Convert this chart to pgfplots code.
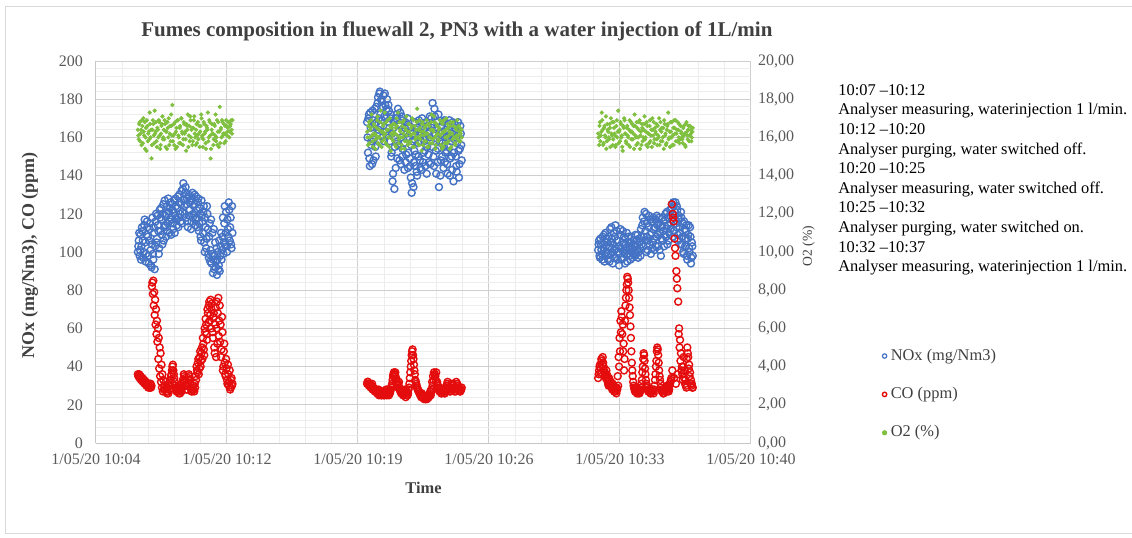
\documentclass[border=0pt]{standalone}
\usepackage{fontspec}
\setmainfont{Liberation Serif}
\usepackage{pgfplots}
\usepackage{pgfplotstable}
\pgfplotsset{compat=1.18}

\definecolor{noxblue}{RGB}{68,114,196}
\definecolor{cored}{RGB}{228,12,12}
\definecolor{o2green}{RGB}{128,192,64}
\definecolor{txt}{RGB}{89,89,89}

% time in minutes after 10:00, first set of samples
\pgfplotstableread{
t nox co o2
7.10 100 36 16.4
7.15 106 35 15.9
7.20 98 34 16.8
7.25 109 35 16.2
7.30 103 33 15.6
7.35 111 34 16.6
7.40 97 32 17.0
7.45 114 33 16.1
7.50 105 31 15.4
7.55 99 32 16.5
7.60 116 30 16.9
7.65 108 31 15.8
7.70 94 30 16.3
7.75 112 29 17.3
7.80 101 31 16.0
7.85 92 30 14.9
7.90 118 84 16.4
7.95 96 85 16.7
8.00 110 79 15.7
8.05 103 75 16.2
8.10 120 70 16.8
8.15 107 64 15.5
8.20 114 60 16.4
8.25 99 55 16.9
8.30 122 50 16.1
8.35 111 47 15.6
8.40 117 41 16.6
8.45 104 36 17.1
8.50 125 33 16.0
8.55 113 30 15.9
8.60 119 28 16.7
8.65 108 27 16.3
8.70 124 26 15.4
8.75 115 29 16.5
8.80 121 31 17.0
8.85 110 28 16.2
8.90 126 33 15.8
8.95 117 36 16.6
9.00 122 40 17.7
9.05 112 38 16.1
9.10 127 34 15.6
9.15 119 30 16.8
9.20 124 28 16.3
9.25 114 27 15.5
9.30 129 29 16.9
9.35 118 26 16.0
9.40 126 28 16.5
9.45 116 30 15.7
9.50 132 27 17.0
9.55 121 29 16.2
9.60 136 32 15.9
9.65 124 35 16.7
9.70 131 34 16.3
9.75 118 30 15.3
9.80 128 28 16.6
9.85 113 31 17.2
9.90 130 36 16.1
9.95 122 33 15.8
10.00 127 29 16.9
10.05 116 27 16.4
10.10 131 28 15.6
10.15 120 30 16.5
10.20 125 27 17.1
10.25 114 29 16.0
10.30 129 33 16.4
10.35 118 38 15.7
10.40 126 42 16.8
10.45 111 36 16.2
10.50 123 45 15.5
10.55 108 40 16.6
10.60 127 47 17.0
10.65 116 44 16.1
10.70 121 52 15.9
10.75 105 46 16.7
10.80 118 58 16.3
10.85 102 62 15.4
10.90 124 54 16.5
10.95 112 68 17.3
11.00 97 72 16.0
11.05 115 64 16.8
11.10 101 75 14.9
11.15 94 70 16.4
11.20 110 58 16.2
11.25 96 66 15.6
11.30 91 50 16.7
11.35 105 62 16.1
11.40 95 45 15.8
11.45 88 74 16.9
11.50 100 68 16.3
11.55 93 56 15.5
11.60 90 72 17.6
11.65 103 62 16.4
11.70 96 49 16.0
11.75 108 58 16.8
11.80 99 40 16.2
11.85 115 52 15.7
11.90 104 36 16.6
11.95 121 44 16.9
12.00 100 33 16.1
12.05 112 41 16.5
12.10 126 30 16.8
12.15 106 38 16.3
12.20 118 29 16.7
12.25 102 34 16.4
12.30 110 31 16.9
19.70 168 31 16.3
19.75 152 32 15.6
19.80 172 30 16.8
19.85 145 31 16.0
19.90 165 29 16.5
19.95 158 30 17.2
20.00 174 28 15.8
20.05 148 29 16.2
20.10 167 28 16.6
20.15 155 27 15.4
20.20 176 28 16.1
20.25 162 26 16.9
20.30 181 27 15.7
20.35 170 25 16.4
20.40 184 26 16.0
20.45 166 27 17.4
20.50 179 25 15.5
20.55 160 26 16.3
20.60 182 27 16.7
20.65 171 25 15.9
20.70 177 26 16.2
20.75 163 28 16.8
20.80 180 26 15.6
20.85 168 27 16.4
20.90 174 25 16.0
20.95 158 26 17.0
21.00 172 28 15.3
21.05 152 30 16.5
21.10 137 33 16.1
21.15 165 36 15.8
21.20 133 35 16.7
21.25 160 37 16.2
21.30 170 34 15.5
21.35 149 31 16.6
21.40 175 29 17.3
21.45 156 32 15.9
21.50 166 28 16.4
21.55 146 27 16.0
21.60 171 26 15.6
21.65 154 27 16.8
21.70 163 25 16.2
21.75 143 26 15.4
21.80 168 28 16.5
21.85 151 25 17.1
21.90 160 27 15.8
21.95 144 26 16.3
22.00 166 29 16.7
22.05 149 34 15.7
22.10 139 40 16.1
22.15 131 46 16.6
22.20 158 49 15.5
22.25 134 44 16.9
22.30 153 38 16.2
22.35 145 33 15.9
22.40 164 31 16.4
22.45 140 29 17.5
22.50 157 28 16.0
22.55 169 27 15.6
22.60 148 26 16.5
22.65 161 25 16.1
22.70 143 26 15.3
22.75 166 24 16.8
22.80 152 25 16.3
22.85 159 24 15.8
22.90 145 23 16.6
22.95 168 24 16.2
23.00 155 23 15.5
23.05 162 25 16.7
23.10 147 24 16.0
23.15 171 26 15.7
23.20 158 25 16.4
23.25 165 27 17.2
23.30 178 30 15.9
23.35 150 33 16.3
23.40 175 36 16.8
23.45 162 35 15.4
23.50 141 37 16.1
23.55 168 32 16.6
23.60 154 30 15.8
23.65 134 28 16.4
23.70 163 29 16.9
23.75 148 27 15.6
23.80 166 26 16.2
23.85 157 27 16.7
23.90 144 28 15.5
23.95 169 26 16.3
24.00 152 27 16.0
24.05 160 29 17.0
24.10 146 31 15.7
24.15 167 30 16.5
24.20 155 28 16.1
24.25 140 27 15.4
24.30 162 29 16.8
24.35 150 31 16.2
24.40 168 30 15.9
24.45 137 28 16.6
24.50 159 27 16.0
24.55 165 29 15.6
24.60 145 32 16.4
24.65 157 31 16.9
24.70 168 29 16.1
24.75 139 28 15.8
24.80 154 27 16.5
24.85 162 28 16.2
24.90 148 29 16.0
32.40 101 34 16.2
32.45 106 38 15.6
32.50 97 41 16.8
32.55 104 36 16.1
32.60 99 43 17.3
32.65 108 45 16.4
32.70 102 40 15.7
32.75 95 37 16.6
32.80 110 35 16.0
32.85 100 38 15.4
32.90 105 33 16.7
32.95 96 31 16.3
33.00 103 34 15.9
33.05 112 30 16.5
33.10 99 32 17.0
33.15 107 29 16.1
33.20 94 31 15.6
33.25 110 28 16.8
33.30 101 27 16.2
33.35 114 29 15.5
33.40 97 26 16.6
33.45 106 28 16.0
33.50 100 30 17.4
33.55 93 40 16.3
33.60 109 48 15.8
33.65 102 58 16.7
33.70 96 66 16.1
33.75 111 62 15.3
33.80 104 52 16.5
33.85 99 44 16.9
33.90 107 72 16.2
33.95 101 80 15.7
34.00 95 87 16.6
34.05 108 84 16.0
34.10 103 76 16.4
34.15 98 67 15.5
34.20 105 55 16.8
34.25 100 42 16.3
34.30 97 35 15.9
34.35 106 30 16.6
34.40 101 28 17.2
34.45 109 27 16.1
34.50 99 29 15.6
34.55 104 27 16.5
34.60 97 26 16.0
34.65 107 28 16.8
34.70 102 27 15.4
34.75 112 29 16.3
34.80 104 33 16.7
34.85 118 40 15.8
34.90 108 47 16.4
34.95 121 43 17.1
35.00 111 36 16.0
35.05 100 31 15.6
35.10 115 29 16.6
35.15 106 27 16.2
35.20 119 28 15.7
35.25 109 27 16.9
35.30 99 26 16.1
35.35 116 28 15.5
35.40 105 27 16.4
35.45 112 26 16.8
35.50 101 30 15.9
35.55 117 36 16.3
35.60 108 43 16.7
35.65 114 50 15.6
35.70 103 46 16.1
35.75 118 38 17.0
35.80 110 33 16.4
35.85 98 29 15.8
35.90 113 27 16.5
35.95 106 28 16.0
36.00 116 26 15.4
36.05 109 27 16.7
36.10 120 29 16.2
36.15 112 28 15.7
36.20 104 27 16.6
36.25 118 30 17.3
36.30 110 28 16.0
36.35 122 31 15.5
36.40 115 33 16.3
36.45 125 125 16.8
36.50 108 120 16.1
36.55 124 116 15.6
36.60 119 107 16.5
36.65 126 98 16.9
36.70 113 90 16.2
36.75 122 81 15.8
36.80 106 74 16.4
36.85 117 60 16.7
36.90 110 54 15.9
36.95 121 47 16.3
37.00 104 40 16.0
37.05 115 33 15.7
37.10 99 45 16.6
37.15 112 38 16.2
37.20 107 33 15.5
37.25 114 29 16.8
37.30 96 50 16.1
37.35 109 45 16.4
37.40 102 41 15.8
37.45 113 37 16.6
37.50 94 33 16.2
37.55 105 31 16.0
37.60 98 29 16.5
}\fumes

% second set, sampled in between
\pgfplotstableread{
t nox co o2
7.125 103 35 16.1
7.175 110 36 16.7
7.225 101 34 15.8
7.275 96 33 16.4
7.325 113 34 16.9
7.375 106 32 15.7
7.425 100 33 16.3
7.475 117 31 16.8
7.525 95 32 16.0
7.575 109 30 15.3
7.625 113 31 16.6
7.675 98 29 16.2
7.725 106 30 15.9
7.775 115 31 16.7
7.825 93 29 16.4
7.875 104 82 15.6
7.925 99 78 16.9
7.975 113 72 16.1
8.025 91 67 17.4
8.075 116 62 16.3
8.125 105 57 15.8
8.175 119 53 16.5
8.225 111 44 16.0
8.275 102 39 16.8
8.325 118 35 15.4
8.375 123 32 16.2
8.425 109 29 16.7
8.475 120 27 15.9
8.525 106 28 16.4
8.575 127 30 16.9
8.625 114 32 15.5
8.675 120 29 16.3
8.725 111 27 16.8
8.775 128 26 16.0
8.825 116 28 15.6
8.875 123 30 16.6
8.925 109 35 17.2
8.975 125 38 16.1
9.025 115 41 15.8
9.075 121 36 16.7
9.125 110 32 16.2
9.175 128 29 15.4
9.225 117 27 16.5
9.275 123 28 16.9
9.325 113 30 16.1
9.375 130 27 15.7
9.425 120 26 16.6
9.475 125 28 17.0
9.525 115 31 16.3
9.575 133 33 15.6
9.625 127 36 16.8
9.675 120 33 16.2
9.725 134 30 15.9
9.775 125 28 16.7
9.825 116 30 16.4
9.875 129 34 15.5
9.925 119 35 16.6
9.975 126 31 17.1
10.025 112 28 16.0
10.075 128 27 16.5
10.125 118 29 15.8
10.175 124 28 16.9
10.225 130 31 16.2
10.275 117 35 15.6
10.325 122 40 16.7
10.375 113 37 16.1
10.425 128 44 15.9
10.475 115 39 16.6
10.525 120 48 16.3
10.575 106 43 17.2
10.625 119 50 16.0
10.675 110 55 15.5
10.725 124 49 16.8
10.775 100 60 16.2
10.825 113 65 15.7
10.875 107 57 16.6
10.925 120 70 16.4
10.975 99 63 15.8
11.025 108 74 16.9
11.075 95 67 16.1
11.125 117 60 15.4
11.175 99 73 16.7
11.225 89 55 16.2
11.275 112 68 15.9
11.325 98 47 16.6
11.375 92 71 17.2
11.425 102 60 16.0
11.475 96 52 15.6
11.525 91 76 16.8
11.575 106 64 16.3
11.625 98 53 15.7
11.675 110 45 16.5
11.725 101 66 16.9
11.775 118 38 16.1
11.825 105 48 16.7
11.875 124 42 16.2
11.925 110 35 15.8
11.975 103 39 16.6
12.025 117 31 16.3
12.075 108 36 16.8
12.125 122 32 16.0
12.175 113 28 16.6
12.225 104 33 16.9
12.275 124 30 16.2
19.725 160 32 16.0
19.775 170 31 16.6
19.825 149 30 15.7
19.875 173 30 16.4
19.925 156 29 16.9
19.975 146 31 16.1
20.025 169 29 15.5
20.075 159 28 16.7
20.125 175 27 16.2
20.175 150 28 15.9
20.225 168 27 16.5
20.275 178 26 17.1
20.325 164 28 16.0
20.375 183 26 15.6
20.425 172 27 16.8
20.475 180 25 16.3
20.525 169 26 15.8
20.575 176 27 16.6
20.625 158 25 16.1
20.675 183 26 17.3
20.725 170 27 15.7
20.775 175 25 16.4
20.825 161 26 16.9
20.875 177 28 16.0
20.925 165 26 15.5
20.975 170 27 16.6
21.025 150 29 16.2
21.075 162 31 15.9
21.125 141 35 16.7
21.175 168 37 16.3
21.225 155 36 15.6
21.275 144 33 16.5
21.325 172 32 17.0
21.375 158 30 16.1
21.425 167 31 15.7
21.475 148 29 16.8
21.525 173 27 16.3
21.575 160 26 15.4
21.625 150 28 16.6
21.675 169 25 16.0
21.725 157 27 16.9
21.775 165 26 15.8
21.825 147 24 16.4
21.875 162 26 16.1
21.925 170 25 15.6
21.975 152 28 16.7
22.025 160 31 16.3
22.075 145 37 15.8
22.125 156 43 16.5
22.175 136 48 17.0
22.225 162 46 16.2
22.275 147 41 15.5
22.325 168 36 16.6
22.375 151 32 16.0
22.425 142 30 16.8
22.475 165 28 15.7
22.525 150 27 16.4
22.575 163 26 16.9
22.625 144 25 15.9
22.675 158 24 16.3
22.725 170 25 16.7
22.775 147 24 15.6
22.825 164 23 16.1
22.875 153 24 16.5
22.925 160 23 15.8
22.975 141 24 16.9
23.025 166 25 16.2
23.075 151 24 15.5
23.125 160 25 16.6
23.175 146 27 16.0
23.225 170 28 16.8
23.275 155 32 15.7
23.325 167 35 16.4
23.375 145 37 17.1
23.425 171 36 16.0
23.475 153 33 15.6
23.525 164 31 16.7
23.575 147 29 16.2
23.625 172 28 15.9
23.675 158 27 16.5
23.725 140 28 16.1
23.775 162 26 16.8
23.825 150 27 15.4
23.875 168 28 16.3
23.925 155 27 16.9
23.975 147 26 15.7
24.025 164 28 16.4
24.075 153 30 16.0
24.125 141 32 16.7
24.175 160 29 15.8
24.225 169 28 16.3
24.275 149 27 16.6
24.325 158 28 15.5
24.375 143 30 16.2
24.425 163 31 16.8
24.475 152 29 16.0
24.525 167 28 15.7
24.575 150 27 16.5
24.625 142 29 16.1
24.675 161 30 15.9
24.725 153 28 16.6
24.775 146 29 16.3
24.825 166 27 15.8
24.875 156 28 16.4
32.425 104 36 16.0
32.475 98 40 16.6
32.525 107 39 15.8
32.575 101 44 16.3
32.625 96 41 16.9
32.675 104 42 15.6
32.725 109 38 16.5
32.775 98 36 16.1
32.825 103 34 17.1
32.875 107 36 15.8
32.925 99 32 16.4
32.975 108 30 16.0
33.025 95 33 16.7
33.075 105 31 15.5
33.125 113 30 16.2
33.175 100 28 16.8
33.225 104 30 15.9
33.275 97 27 16.5
33.325 108 28 16.1
33.375 102 27 15.6
33.425 111 29 16.9
33.475 96 35 16.3
33.525 103 45 15.7
33.575 99 55 16.4
33.625 112 64 16.8
33.675 97 69 16.0
33.725 105 57 15.5
33.775 100 48 16.6
33.825 108 38 17.0
33.875 94 64 16.2
33.925 104 76 15.8
33.975 110 83 16.5
34.025 99 86 16.1
34.075 105 80 15.6
34.125 101 71 16.9
34.175 96 61 16.3
34.225 108 48 15.9
34.275 102 38 16.7
34.325 99 32 16.2
34.375 104 29 15.4
34.425 98 27 16.6
34.475 106 28 16.0
34.525 101 26 16.8
34.575 109 28 15.7
34.625 100 27 16.4
34.675 105 26 16.9
34.725 98 28 16.1
34.775 108 31 15.6
34.825 114 37 16.5
34.875 103 44 16.0
34.925 116 46 16.7
34.975 106 39 15.9
35.025 120 33 16.3
35.075 108 30 16.8
35.125 101 28 15.5
35.175 113 27 16.2
35.225 104 28 16.6
35.275 117 26 15.8
35.325 110 27 16.4
35.375 102 28 17.0
35.425 118 27 16.1
35.475 107 28 15.7
35.525 113 33 16.5
35.575 103 40 16.2
35.625 119 48 15.9
35.675 109 49 16.6
35.725 115 42 16.0
35.775 101 35 15.6
35.825 114 31 16.8
35.875 107 28 16.3
35.925 118 27 15.8
35.975 111 26 16.5
36.025 103 28 16.9
36.075 117 27 16.1
36.125 108 28 15.6
36.175 121 30 16.4
36.225 114 29 16.7
36.275 106 27 15.9
36.325 119 30 16.3
36.375 112 32 16.8
36.425 123 34 16.0
36.475 117 38 15.6
36.525 126 118 16.5
36.575 111 34 16.9
36.625 121 102 16.2
36.675 115 31 15.8
36.725 124 86 16.4
36.775 109 36 16.8
36.825 119 57 16.0
36.875 113 50 15.7
36.925 104 43 16.6
36.975 118 38 16.2
37.025 108 36 15.9
37.075 100 40 16.5
37.125 116 34 16.1
37.175 103 31 15.6
37.225 111 30 16.7
37.275 98 44 16.3
37.325 107 47 15.9
37.375 114 39 16.6
37.425 100 35 16.1
37.475 108 31 16.4
37.525 97 30 15.8
37.575 103 29 16.3
}\fumesb

\pgfplotsset{
  common/.style={
    scale only axis, width=327.5pt, height=191pt,
    xmin=4.8, xmax=40.8,
    /pgf/number format/assume math mode=true,
    tick label style={font=\fontsize{8}{9}\selectfont, text=txt},
    major tick length=0pt, minor tick length=0pt,
  },
  nox/.style={only marks, mark=o, mark size=1.75pt, draw=noxblue, line width=0.7pt},
  co/.style={only marks, mark=o, mark size=1.75pt, draw=cored, line width=0.7pt},
  otwo/.style={only marks, mark=*, mark size=0.85pt, color=o2green},
}

\begin{document}
\begin{tikzpicture}
\path[use as bounding box] (-48pt,-47pt) rectangle (518pt,221.5pt);
\draw[gray!30, line width=0.5pt] (-45pt,-45pt) rectangle (530pt,218pt);

\begin{axis}[
  common,
  name=main,
  ymin=0, ymax=200,
  xtick={4.8,12,19.2,26.4,33.6,40.8},
  xticklabels={1/05/20 10:04,1/05/20 10:12,1/05/20 10:19,1/05/20 10:26,1/05/20 10:33,1/05/20 10:40},
  minor x tick num=4,
  ytick={0,20,...,200},
  minor y tick num=4,
  grid=both,
  major grid style={draw=gray!38, line width=0.5pt},
  minor grid style={draw=gray!14, line width=0.5pt},
  axis x line*=bottom, axis y line*=left,
  axis line style={draw=gray!45, line width=0.5pt, -},
  xticklabel style={yshift=-2pt},
  yticklabel style={xshift=-3pt},
  title={Fumes composition in fluewall 2, PN3 with a water injection of 1L/min},
  title style={at={(axis description cs:0.551,1.047)}, anchor=center,
    font=\fontsize{10.5}{12}\selectfont\bfseries, text=black!75},
  xlabel={Time},
  xlabel style={at={(axis description cs:0.5,-0.118)}, anchor=center,
    font=\fontsize{8.2}{10}\selectfont\bfseries, text=black!75},
  ylabel={NOx (mg/Nm3), CO (ppm)},
  ylabel style={at={(axis description cs:-0.1008,0.492)}, anchor=center,
    font=\fontsize{9}{10}\selectfont\bfseries, text=black!75},
]
\addplot[nox] table[x=t, y=nox] {\fumes};
\addplot[nox] table[x=t, y=nox] {\fumesb};
\addplot[co] table[x=t, y=co] {\fumes};
\addplot[co] table[x=t, y=co] {\fumesb};
\end{axis}

\begin{axis}[
  common,
  ymin=0, ymax=20,
  axis x line=none,
  axis y line*=right,
  axis line style={draw=none},
  ytick={0,2,...,20},
  yticklabel style={/pgf/number format/.cd, fixed, fixed zerofill, precision=2, use comma},
  ylabel={O2 (\%)},
  ylabel style={at={(axis description cs:1.088,0.516)}, anchor=center,
    font=\fontsize{6.8}{8}\selectfont, text=black!75},
  legend style={at={(axis description cs:1.2,0.258)}, anchor=north west,
    draw=none, fill=none, inner sep=0pt,
    font=\fontsize{8.2}{10}\selectfont, text=black!75,
    row sep=8pt},
  legend cell align=left,
  legend image code/.code={\draw[#1, mark size=1.1pt] plot coordinates {(0.08cm,0cm)};},
]
\addlegendimage{only marks, mark=o, draw=noxblue, line width=0.6pt}
\addlegendentry{NOx (mg/Nm3)}
\addlegendimage{only marks, mark=o, draw=cored, line width=0.7pt}
\addlegendentry{CO (ppm)}
\addplot[otwo] table[x=t, y=o2] {\fumes};
\addlegendentry{O2 (\%)}
\addplot[otwo, forget plot] table[x=t, y=o2] {\fumesb};
\end{axis}

\node[anchor=north west, align=left, inner sep=0pt,
  font=\fontsize{8.2}{9.8}\selectfont, text=black] at (371pt,179.5pt)
  {10:07 –10:12\\
   Analyser measuring, waterinjection 1 l/min.\\
   10:12 –10:20\\
   Analyser purging, water switched off.\\
   10:20 –10:25\\
   Analyser measuring, water switched off.\\
   10:25 –10:32\\
   Analyser purging, water switched on.\\
   10:32 –10:37\\
   Analyser measuring, waterinjection 1 l/min.};
\end{tikzpicture}
\end{document}
